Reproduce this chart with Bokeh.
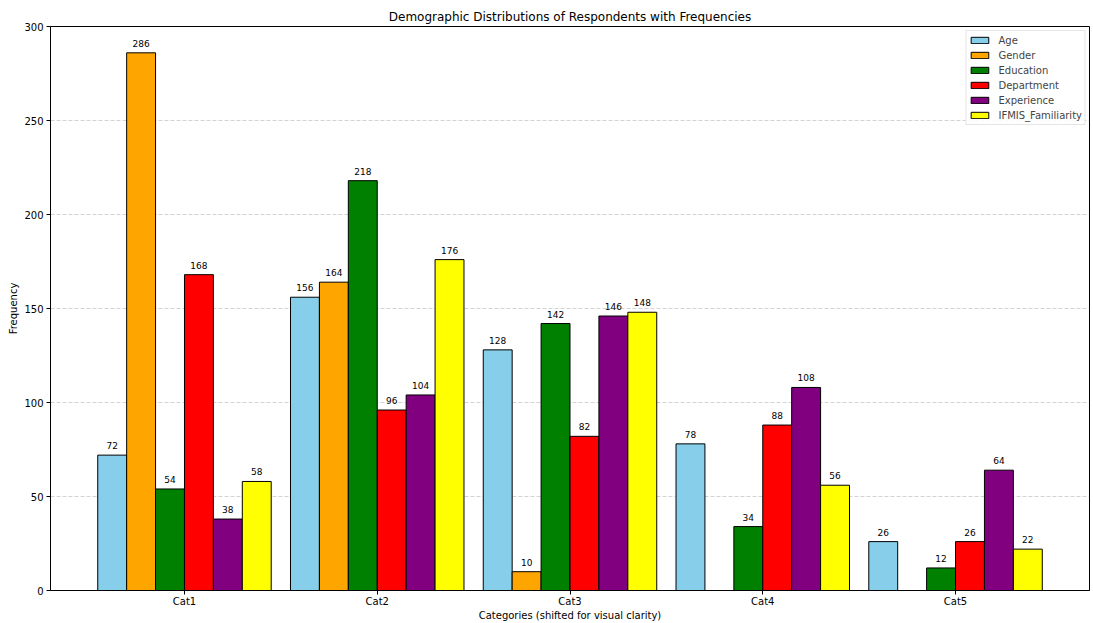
from bokeh.plotting import figure
from bokeh.models import ColumnDataSource, Range1d, FixedTicker, Legend, LegendItem
from bokeh.transform import dodge
from bokeh.embed import file_html
from bokeh.resources import INLINE

categories = ["Cat1", "Cat2", "Cat3", "Cat4", "Cat5"]
series_names = ["Age", "Gender", "Education", "Department", "Experience", "IFMIS_Familiarity"]
age = [72, 156, 128, 78, 26]
gender = [286, 164, 10, 0, 0]
education = [54, 218, 142, 34, 12]
department = [168, 96, 82, 88, 26]
experience = [38, 104, 146, 108, 64]
ifmis = [58, 176, 148, 56, 22]
colors = ["#87CEEB", "#FFA500", "#008000", "#FF0000", "#800080", "#FFFF00"]
y_ticks = [0, 50, 100, 150, 200, 250, 300]

series_values = [age, gender, education, department, experience, ifmis]
bar_width = 0.15
FONT = "DejaVu Sans"

p = figure(width=1093, height=623, output_backend="svg", toolbar_location=None,
           x_range=Range1d(-0.695, 4.695), y_range=Range1d(0, 300),
           min_border_left=50, min_border_right=4, min_border_top=26, min_border_bottom=31)

p.title.text = "Demographic Distributions of Respondents with Frequencies"
p.title.align = "center"
p.title.text_font = FONT
p.title.text_font_size = "12px"
p.title.text_font_style = "normal"
p.title.text_color = "black"
p.title.standoff = 5
p.title.offset = 0

p.outline_line_color = "black"
p.outline_line_alpha = 1
p.outline_line_width = 1
p.background_fill_color = "white"
p.border_fill_color = "white"

idx = list(range(len(categories)))
items = []
for i, (name, vals, col) in enumerate(zip(series_names, series_values, colors)):
    off = (i - 2.5) * bar_width
    src = ColumnDataSource(dict(idx=idx, val=vals))
    r = p.vbar(x=dodge("idx", off, range=p.x_range), top="val", width=bar_width, source=src,
               fill_color=col, line_color="black", line_width=1)
    items.append(LegendItem(label=name, renderers=[r]))
    nz_idx = [k for k, v in zip(idx, vals) if v > 0]
    nz_val = [v for v in vals if v > 0]
    lsrc = ColumnDataSource(dict(idx=nz_idx, val=nz_val, txt=[str(v) for v in nz_val]))
    p.text(x=dodge("idx", off, range=p.x_range), y="val", text="txt", source=lsrc,
           text_align="center", text_baseline="bottom", y_offset=-6,
           text_font_size="9px", text_color="black", text_font={"value": FONT})

# axes
p.xaxis.ticker = FixedTicker(ticks=idx)
p.xaxis.major_label_overrides = {k: c for k, c in zip(idx, categories)}
p.yaxis.ticker = FixedTicker(ticks=y_ticks)
p.xaxis.axis_label = "Categories (shifted for visual clarity)"
p.yaxis.axis_label = "Frequency"
for ax in (p.xaxis[0], p.yaxis[0]):
    ax.axis_label_text_font = FONT
    ax.axis_label_text_font_size = "10px"
    ax.axis_label_text_font_style = "normal"
    ax.axis_label_standoff = 0
    ax.major_label_text_font = FONT
    ax.major_label_text_font_size = "10px"
    ax.major_label_standoff = 1
    ax.major_tick_in = 0
    ax.major_tick_out = 4
    ax.minor_tick_in = 0
    ax.minor_tick_out = 0
    ax.axis_line_color = "black"
    ax.major_tick_line_color = "black"
    ax.major_label_text_color = "black"
    ax.axis_label_text_color = "black"
p.yaxis.axis_label_standoff = 2
p.yaxis.major_label_standoff = 3

p.xgrid.visible = False
p.ygrid.grid_line_color = "#b0b0b0"
p.ygrid.grid_line_alpha = 0.7
p.ygrid.grid_line_dash = "4 2"
p.ygrid.grid_line_width = 0.8

legend = Legend(items=items, location="top_right")
legend.label_text_font = FONT
legend.label_text_font_size = "10px"
legend.glyph_width = 22
legend.glyph_height = 8
legend.label_height = 14
legend.label_standoff = 8
legend.spacing = 1
legend.padding = 2
legend.margin = 4
legend.border_line_color = "#cccccc"
legend.border_line_width = 1
legend.background_fill_alpha = 0.85
p.add_layout(legend)

open("out.html", "w").write(file_html(p, INLINE))
